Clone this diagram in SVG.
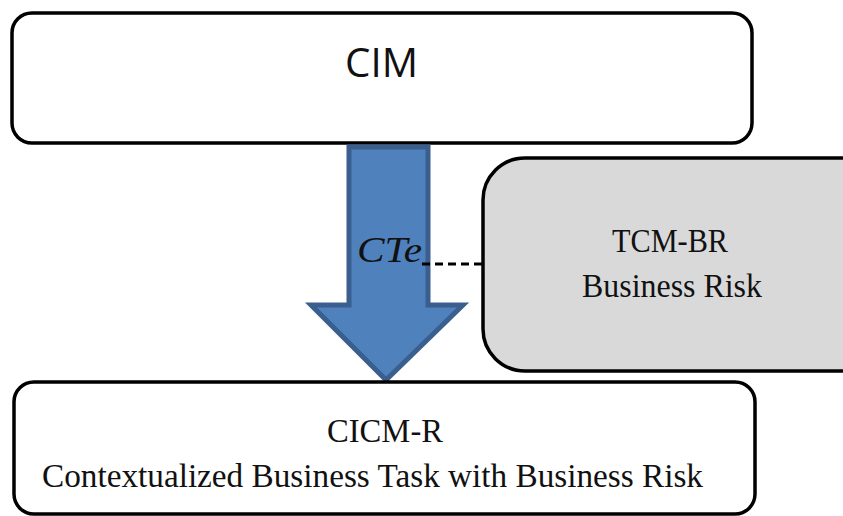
<svg xmlns="http://www.w3.org/2000/svg" width="843" height="516" viewBox="0 0 843 516">
<style>
.box{fill:#fff;stroke:#000;stroke-width:3.5}
.gray{fill:#d9d9d9;stroke:#000;stroke-width:3.5}
.serif{font-family:"Liberation Serif","Times New Roman",serif;fill:#111;font-size:33px}
.sans{font-family:"Open Sans","Liberation Sans",sans-serif;fill:#111}
</style>
<g id="cim">
<rect class="box" x="12" y="13" width="740" height="130" rx="20"/>
<text class="sans" x="345" y="77" font-size="41" textLength="73" lengthAdjust="spacingAndGlyphs">CIM</text>
</g>
<g id="tcm-br">
<rect class="gray" x="483" y="158" width="400" height="213" rx="42"/>
<text class="serif" x="612" y="252" textLength="116" lengthAdjust="spacingAndGlyphs">TCM-BR</text>
<text class="serif" x="582" y="297" textLength="180" lengthAdjust="spacingAndGlyphs">Business Risk</text>
</g>
<g id="connectors">
<path d="M349,147 H428 V305 H463 L386,380 L311,305 H349 Z" fill="#4f81bd" stroke="#3a5f8f" stroke-width="5" stroke-linejoin="miter"/>
<line x1="422" y1="264" x2="483" y2="264" stroke="#000" stroke-width="3" stroke-dasharray="8,5"/>
<text class="serif" x="357" y="262" font-size="36" font-style="italic" textLength="65" lengthAdjust="spacingAndGlyphs" style="font-size:36px">CTe</text>
</g>
<g id="cicm-r">
<rect class="box" x="14" y="382" width="741" height="132" rx="20"/>
<text class="serif" x="327" y="442" textLength="116" lengthAdjust="spacingAndGlyphs">CICM-R</text>
<text class="serif" x="42" y="487" textLength="661" lengthAdjust="spacingAndGlyphs">Contextualized Business Task with Business Risk</text>
</g>
</svg>
